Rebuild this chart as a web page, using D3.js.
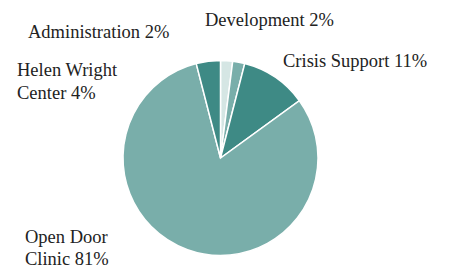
<!DOCTYPE html>
<html>
<head>
<meta charset="utf-8">
<script src="https://cdn.jsdelivr.net/npm/d3@7"></script>
<style>
  body { margin: 0; background: #fff; }
  text { font-family: "Liberation Serif", "Times New Roman", serif; font-size: 18.5px; fill: #222; }
</style>
</head>
<body>
<div id="chart"></div>
<script>
// data, clockwise from 12 o'clock
var categories = ['Development', 'Administration', 'Crisis Support', 'Open Door Clinic', 'Helen Wright Center'];
var values = [2, 2, 11, 81, 4];
var labelLines = [
  ['Development 2%'],
  ['Administration 2%'],
  ['Crisis Support 11%'],
  ['Open Door', 'Clinic 81%'],
  ['Helen Wright', 'Center 4%']
];

var width = 450, height = 268;
var cx = 220.5, cy = 158, radius = 97.5;

// where each label block starts (left edge, first baseline, line step)
var labelPos = {
  'Development': [205, 26, 0],
  'Administration': [28, 38, 0],
  'Crisis Support': [283, 67, 0],
  'Open Door Clinic': [25, 243, 21.5],
  'Helen Wright Center': [17, 76, 23]
};

var color = d3.scaleOrdinal()
    .domain(categories)
    .range(['#d5e6e4', '#79aeaa', '#3e8a85', '#79aeaa', '#3e8a85']);

var pie = d3.pie().sort(null).value(function (d) { return d.value; });
var arc = d3.arc().innerRadius(0).outerRadius(radius);

var data = categories.map(function (c, i) { return { name: c, value: values[i], lines: labelLines[i] }; });

var svg = d3.select('#chart').append('svg')
    .attr('width', width)
    .attr('height', height);

var g = svg.append('g')
    .attr('transform', 'translate(' + cx + ',' + cy + ')');

g.selectAll('path')
    .data(pie(data))
    .enter().append('path')
      .attr('d', arc)
      .attr('fill', function (d) { return color(d.data.name); })
      .attr('stroke', '#fff')
      .attr('stroke-width', 1.5);

var labels = svg.selectAll('text.label')
    .data(data)
    .enter().append('text')
      .attr('class', 'label')
      .attr('x', function (d) { return labelPos[d.name][0]; })
      .attr('y', function (d) { return labelPos[d.name][1]; });

labels.selectAll('tspan')
    .data(function (d) {
      var p = labelPos[d.name];
      return d.lines.map(function (l) { return { text: l, x: p[0], step: p[2] }; });
    })
    .enter().append('tspan')
      .attr('x', function (d) { return d.x; })
      .attr('dy', function (d, i) { return i === 0 ? 0 : d.step; })
      .text(function (d) { return d.text; });
</script>
</body>
</html>
